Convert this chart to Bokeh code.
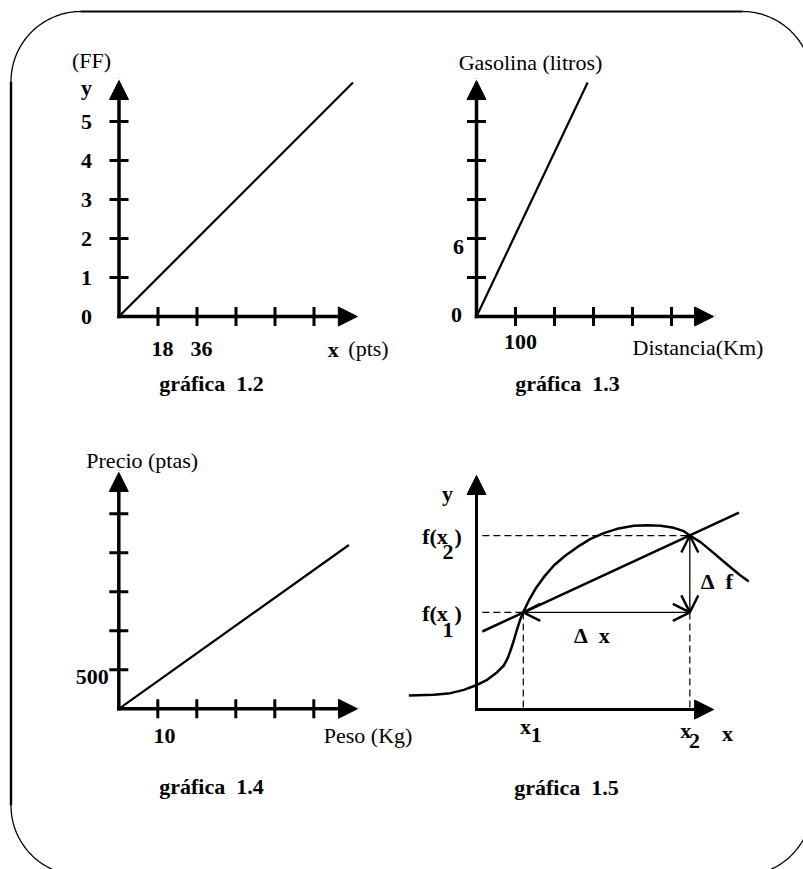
import numpy as np
from bokeh.plotting import figure
from bokeh.models import Range1d, Arrow, NormalHead, OpenHead
from bokeh.core.properties import value
from bokeh.embed import file_html
from bokeh.resources import INLINE

# ---------------- data ----------------
# gráfica 1.2  (FF vs pts)
g12_xticks = [18, 36, 54, 72, 90]
g12_xlab_pos = [18, 36]
g12_xlabels = ["18", "36"]
g12_yticks = [1, 2, 3, 4, 5]
g12_ylab_pos = [0, 1, 2, 3, 4, 5]
g12_ylabels = ["0", "1", "2", "3", "4", "5"]
g12_line_x = [0, 108]
g12_line_y = [0, 6]
g12_axis_end = (110, 6.05)

# gráfica 1.3  (litros vs Km)
g13_xticks = [100, 200, 300, 400, 500]
g13_yticks = [3, 6, 9, 12, 15]
g13_line_x = [0, 285]
g13_line_y = [0, 18]
g13_axis_end = (608, 18.15)

# gráfica 1.4  (ptas vs Kg)
g14_xticks = [10, 20, 30, 40, 50]
g14_yticks = [500, 1000, 1500, 2000, 2500]
g14_line_x = [0, 59]
g14_line_y = [0, 2100]
g14_axis_end = (61.2, 3030)

# gráfica 1.5  (secante de f)
x1, x2 = 1.2, 5.47
fx1, fx2 = 2.49, 4.46
curve_x = [-1.735, -1.094, -0.667, -0.325, -0.026, 0.274, 0.530, 0.701, 0.803, 0.872,
           0.957, 1.043, 1.128, 1.197, 1.342, 1.513, 1.726, 1.983, 2.282, 2.581,
           2.923, 3.265, 3.607, 4.034, 4.376, 4.718, 5.060, 5.316, 5.470, 5.744,
           6.085, 6.427, 6.769, 6.983]
curve_y = [0.359, 0.376, 0.419, 0.504, 0.615, 0.761, 0.957, 1.128, 1.325, 1.513,
           1.769, 2.068, 2.325, 2.490, 2.795, 3.094, 3.393, 3.692, 3.949, 4.162,
           4.376, 4.521, 4.632, 4.709, 4.726, 4.709, 4.658, 4.573, 4.460, 4.291,
           4.009, 3.718, 3.436, 3.282]
secant_x = [0.15, 6.73]
secant_y = [2.0, 5.05]
dash_start = 0.15
g15_axis_end = (6.08, 6.0)

# ---------------- layout ----------------
FONT = value("Liberation Serif")
FS = "22px"
W0, W1, H0, H1 = 0, 803, 0, 869
NB = "\u00a0"

p = figure(width=803, height=869, x_range=Range1d(W0, W1), y_range=Range1d(H1, H0),
           x_axis_type=None, y_axis_type=None, output_backend="svg",
           toolbar_location=None, min_border=0)
p.outline_line_color = None
p.background_fill_color = "white"

# rounded frame (page decoration, pixel space)
R = 70
def corner(cx, cy, a0, a1):
    t = np.linspace(a0, a1, 60)
    return cx + R * np.cos(t), cy - R * np.sin(t)

for cx, cy, a0, a1 in [(80.5, 81, np.pi / 2, np.pi), (741.7, 81, 0, np.pi / 2),
                       (80.5, 805, np.pi, 1.5 * np.pi), (741.7, 805, 1.5 * np.pi, 2 * np.pi)]:
    ax_, ay_ = corner(cx, cy, a0, a1)
    p.line(ax_, ay_, line_color="black", line_width=1.3)
p.line([80.5, 741.7], [11, 11], line_color="black", line_width=2.2)
p.line([10.5, 10.5], [81, 805], line_color="black", line_width=2.4)


def setup(name, ox, oy, sx, sy):
    p.extra_x_ranges[name] = Range1d((W0 - ox) / sx, (W1 - ox) / sx)
    p.extra_y_ranges[name] = Range1d((oy - H1) / sy, (oy - H0) / sy)


def axes(name, end, lw, head):
    for xe, ye in [(end[0], 0), (0, end[1])]:
        p.add_layout(Arrow(start=None,
                           end=NormalHead(size=head, fill_color="black", line_color="black", line_width=1),
                           x_start=0, y_start=0, x_end=xe, y_end=ye, line_width=lw,
                           line_color="black", line_cap="square",
                           x_range_name=name, y_range_name=name))


def ticks(name, xt, yt):
    p.scatter(x=xt, y=[0] * len(xt), marker="dash", size=19, angle=np.pi / 2,
              line_width=3, line_color="black", x_range_name=name, y_range_name=name)
    p.scatter(x=[0] * len(yt), y=yt, marker="dash", size=19,
              line_width=3, line_color="black", x_range_name=name, y_range_name=name)


def label(name, xs, ys, texts, dx, dy, align="center", bold=True, size=FS):
    n = len(texts)
    p.text(x=xs, y=ys, text=texts,
           x_offset=dx if isinstance(dx, list) else [dx] * n,
           y_offset=dy if isinstance(dy, list) else [dy] * n,
           text_align=align, text_baseline="middle", text_font=FONT,
           text_font_size=size, text_font_style="bold" if bold else "normal",
           text_color="black", x_range_name=name, y_range_name=name)


TITLE_DY = 67

# ----- gráfica 1.2 -----
setup("g12", 118.5, 316, 39 / 18, 39)
axes("g12", g12_axis_end, 3.5, 19)
ticks("g12", g12_xticks, g12_yticks)
p.line(g12_line_x, g12_line_y, line_color="black", line_width=2.2, x_range_name="g12", y_range_name="g12")
label("g12", [0] * 6, g12_ylab_pos, g12_ylabels, -32.5, 0)
label("g12", g12_xlab_pos, [0, 0], g12_xlabels, 4.5, 32)
ex, ey = g12_axis_end
label("g12", [ex], [0], ["x"], -24, 33)
label("g12", [ex], [0], ["(pts)"], -9, 32, align="left", bold=False)
label("g12", [0], [ey], ["y"], -32.5, 7)
label("g12", [0], [ey], ["(FF)"], -27.5, -20, bold=False)
label("g12", [0], [0], ["gráfica" + NB + NB + "1.2"], 92.5, TITLE_DY)

# ----- gráfica 1.3 -----
setup("g13", 476, 316, 39 / 100, 39 / 3)
axes("g13", g13_axis_end, 3.5, 19)
ticks("g13", g13_xticks, g13_yticks)
p.line(g13_line_x, g13_line_y, line_color="black", line_width=2.2, x_range_name="g13", y_range_name="g13")
label("g13", [0], [0], ["0"], -20, -2)
label("g13", [0], [6], ["6"], -18, 8)
label("g13", [100], [0], ["100"], 5, 25)
ex, ey = g13_axis_end
label("g13", [ex], [0], ["Distancia(Km)"], -81, 31, align="left", bold=False)
label("g13", [0], [ey], ["Gasolina (litros)"], 54, -18, bold=False)
label("g13", [0], [0], ["gráfica" + NB + NB + "1.3"], 91, TITLE_DY)

# ----- gráfica 1.4 -----
setup("g14", 118.3, 708.3, 39 / 10, 39 / 500)
axes("g14", g14_axis_end, 3.5, 19)
ticks("g14", g14_xticks, g14_yticks)
p.line(g14_line_x, g14_line_y, line_color="black", line_width=2.2, x_range_name="g14", y_range_name="g14")
label("g14", [0], [500], ["500"], -10, 7.5, align="right")
label("g14", [10], [0], ["10"], 6.7, 27)
ex, ey = g14_axis_end
label("g14", [ex], [0], ["Peso (Kg)"], -33.7, 27, align="left", bold=False)
label("g14", [0], [ey], ["Precio (ptas)"], 23.4, -12, bold=False)
label("g14", [0], [0], ["gráfica" + NB + NB + "1.4"], 92.7, 78)

# ----- gráfica 1.5 -----
setup("g15", 476, 709, 39, 39)
p.multi_line(xs=[[dash_start, x1], [dash_start, x2], [x1, x1], [x2, x2]],
             ys=[[fx1, fx1], [fx2, fx2], [fx1, 0], [fx1, 0]],
             line_color="black", line_width=1.2, line_dash="7 4",
             x_range_name="g15", y_range_name="g15")
axes("g15", g15_axis_end, 3, 19)
p.line(curve_x, curve_y, line_color="black", line_width=2.5, line_join="round",
       x_range_name="g15", y_range_name="g15")
p.line(secant_x, secant_y, line_color="black", line_width=2.5, x_range_name="g15", y_range_name="g15")
for xs_, ys_, xe_, ye_ in [(x1, fx1, x2, fx1), (x2, fx1, x2, fx2)]:
    p.add_layout(Arrow(start=OpenHead(size=17, line_width=2.4, line_color="black"),
                       end=OpenHead(size=17, line_width=2.4, line_color="black"),
                       x_start=xs_, y_start=ys_, x_end=xe_, y_end=ye_,
                       line_width=1.3, line_color="black",
                       x_range_name="g15", y_range_name="g15"))
ex, ey = g15_axis_end
label("g15", [0], [ey], ["y"], -29, 18)
label("g15", [ex], [0], ["x"], 14, 24)
label("g15", [x1, x1], [0, 0], ["x", "1"], [2.3, 13], [17, 25])
label("g15", [x2, x2], [0, 0], ["x", "2"], [-4, 4.7], [20.5, 31])
label("g15", [0, 0], [fx1, fx1], ["f(x", ")"], [-54.3, -22], [1, 1], align="left")
label("g15", [0], [fx1], ["1"], -28.5, 17.5)
label("g15", [0, 0], [fx2, fx2], ["f(x", ")"], [-54.3, -22], [1, 1], align="left")
label("g15", [0], [fx2], ["2"], -28.5, 16)
label("g15", [x1], [fx1], ["Δ" + NB + NB + "x"], 50.6, 23, align="left")
label("g15", [x2], [(fx1 + fx2) / 2], ["Δ" + NB + NB + "f"], 11, 7.5, align="left")
label("g15", [0], [0], ["gráfica" + NB + NB + "1.5"], 90, 78)

open("out.html", "w").write(file_html(p, INLINE))
